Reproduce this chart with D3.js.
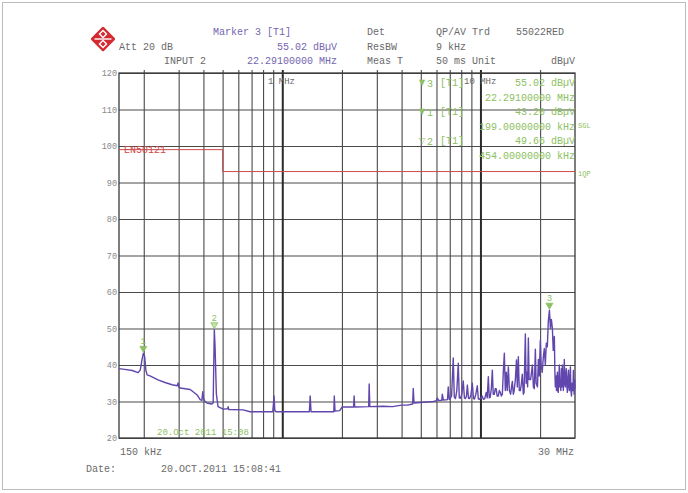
<!DOCTYPE html>
<html><head><meta charset="utf-8">
<script src="https://cdn.jsdelivr.net/npm/d3@7"></script>
<style>
html,body{margin:0;padding:0;background:#fff;}
svg{display:block;}
text{font-family:"Liberation Mono","DejaVu Sans Mono",monospace;}
</style></head>
<body>
<svg id="c" width="688" height="493"></svg>
<script>
// ---------- data ----------
const yTicks = [20,30,40,50,60,70,80,90,100,110,120];
const gridFreqs = [0.2,0.3,0.4,0.5,0.6,0.7,0.8,0.9,1,2,3,4,5,6,7,8,9,10,20];
const majorFreqs = [1,10];
const limitName = "EN50121";
const limitLine = [[0.15,99],[0.5,99],[0.5,93],[30,93]];
// trace: [frequency MHz, level dBuV]
const trace = [
 [0.150,39.0],[0.160,38.8],[0.175,38.5],[0.187,37.9],[0.192,38.6],[0.196,41.5],[0.199,43.2],[0.202,42.4],
 [0.205,38.5],[0.208,37.3],[0.215,37.0],[0.236,35.9],[0.256,35.2],[0.278,34.6],[0.295,34.3],[0.298,35.1],
 [0.301,33.9],[0.305,33.7],[0.343,33.3],[0.372,31.8],[0.385,30.5],[0.393,30.3],[0.397,32.7],[0.400,31.0],
 [0.405,30.2],[0.417,29.6],[0.440,29.3],[0.448,29.6],[0.451,40.0],[0.454,49.7],[0.458,45.0],[0.465,32.0],
 [0.474,28.6],[0.503,27.9],[0.530,28.0],[0.533,28.6],[0.537,27.8],[0.634,27.7],[0.688,27.2],[0.895,27.2],
 [0.903,29.5],[0.909,31.5],[0.917,27.5],[0.930,27.2],[1.370,27.2],[1.383,31.5],[1.397,27.2],[1.820,27.2],
 [1.830,31.5],[1.845,27.4],[1.950,27.5],[2.006,28.5],[2.290,28.5],[2.305,31.5],[2.320,28.5],[2.730,28.6],
 [2.745,34.8],[2.765,28.6],[3.230,28.7],[3.600,28.6],[4.000,29.0],[4.270,29.0],[4.550,29.3],[4.580,33.6],
 [4.620,29.6],[5.140,29.8],[5.800,30.0],[6.000,30.2],[6.050,31.0],[6.150,30.3],[6.380,30.3],[6.420,32.0],
 [6.500,30.4],[6.820,30.5],[6.880,34.0],[6.960,30.6],
 [7.00,30.6],[7.15,31.5],[7.29,41.9],[7.38,31.2],[7.48,30.8],[7.60,33.0],[7.73,40.5],[7.82,31.0],
 [7.92,30.9],[8.05,32.0],[8.19,35.6],[8.30,31.0],[8.40,30.8],[8.50,31.5],[8.59,34.5],[8.70,30.9],
 [8.81,30.8],[8.95,31.8],[9.10,35.0],[9.22,30.8],[9.33,30.7],[9.48,32.0],[9.64,34.3],[9.76,30.7],
 [9.88,30.6],[10.05,31.0],[10.20,31.5],[10.35,30.6],[10.50,30.7],[10.60,31.6],[10.70,32.5],[10.82,31.0],
 [10.96,36.8],[11.08,31.0],[11.20,31.2],[11.35,33.5],[11.48,38.6],[11.60,32.0],[11.75,32.0],[11.88,33.5],
 [12.00,33.5],[12.15,31.5],[12.30,31.5],[12.45,33.0],[12.60,32.5],[12.75,31.5],[12.90,32.0],[13.04,38.0],
 [13.20,43.2],[13.35,33.0],[13.50,38.0],[13.65,33.0],[13.83,39.5],[14.00,33.0],[14.20,32.0],[14.35,34.0],
 [14.49,35.5],[14.65,32.0],[14.80,33.0],[15.00,36.0],[15.20,41.4],[15.35,34.0],[15.53,42.3],[15.70,33.0],
 [15.90,33.0],[16.10,35.0],[16.26,37.5],[16.45,32.0],[16.60,32.5],[16.85,48.5],[17.00,35.0],[17.15,38.0],
 [17.30,34.0],[17.45,47.4],[17.60,36.0],[17.90,36.0],[18.10,38.0],[18.28,40.0],[18.50,34.0],[18.70,33.5],
 [18.93,44.3],[19.10,35.0],[19.40,34.0],[19.60,41.5],[19.80,37.0],[20.05,46.8],[20.25,40.0],[20.50,38.0],
 [20.75,42.0],[21.00,44.5],[21.25,40.0],[21.50,46.0],[21.75,45.0],[22.00,52.0],[22.29,55.0],[22.55,50.0],
 [22.80,52.5],[23.07,50.0],[23.30,44.0],[23.60,47.8],[23.75,38.0],[23.88,34.0],[24.05,37.0],[24.20,33.0],
 [24.45,38.0],[24.55,33.0],[24.70,32.5],[24.85,36.0],[25.00,40.0],[25.15,34.0],[25.30,35.0],[25.45,33.0],
 [25.60,39.0],[25.75,34.0],[25.90,40.0],[26.05,36.0],[26.20,33.0],[26.35,37.0],[26.50,41.5],[26.65,35.0],
 [26.80,34.0],[26.95,37.0],[27.10,39.0],[27.30,34.0],[27.46,32.5],[27.60,36.0],[27.80,38.6],[27.95,34.0],
 [28.10,33.0],[28.25,36.0],[28.44,39.5],[28.60,33.0],[28.80,31.5],[28.95,35.0],[29.10,34.0],[29.30,33.0],
 [29.45,38.5],[29.60,34.0],[29.70,32.0],[29.85,36.0],[30.00,33.5]
];
const markers = [
 {n:"1", f:0.199, v:43.20, filled:true},
 {n:"2", f:0.454, v:49.66, filled:false},
 {n:"3", f:22.291, v:55.02, filled:true}
];
const markerTexts = [
 {sym:"\u25BC", n:"3", lvl:"55.02 dB\u00B5V", fr:"22.29100000 MHz"},
 {sym:"\u25BC", n:"1", lvl:"43.20 dB\u00B5V", fr:"199.00000000 kHz"},
 {sym:"\u25BD", n:"2", lvl:"49.66 dB\u00B5V", fr:"454.00000000 kHz"}
];

// ---------- layout ----------
const svg = d3.select("#c");
const L=119, R=575, T=73, B=438;
const x = d3.scaleLog().domain([0.15,30]).range([L,R]);
const y = d3.scaleLinear().domain([20,120]).range([B,T]);
const purple="#7566b0", grey="#6a6a6a", green="#8cc062", red="#cf4a4a";

// outer frame
svg.append("rect").attr("x",2.5).attr("y",2.5).attr("width",683).attr("height",487)
  .attr("fill","none").attr("stroke","#bbb");

// horizontal grid via axis
const yg = svg.append("g").attr("transform",`translate(${L},0)`)
  .call(d3.axisLeft(y).tickValues(yTicks).tickSize(-(R-L)).tickFormat(d3.format("d")));
yg.select(".domain").remove();
yg.selectAll(".tick line").attr("stroke","#4a4a4a").attr("stroke-width",1.1);
yg.selectAll(".tick text").attr("x",-2).attr("fill","#8a8a8a").style("font-size","8.5px")
  .style("font-family","Liberation Mono, monospace");

// vertical grid via axis
const xg = svg.append("g").attr("transform",`translate(0,${B})`)
  .call(d3.axisBottom(x).tickValues(gridFreqs).tickSize(-(B-T)-3).tickFormat(""));
xg.select(".domain").remove();
xg.selectAll(".tick line")
  .attr("stroke",d=>majorFreqs.includes(d)?"#2a2a2a":"#4a4a4a")
  .attr("stroke-width",d=>majorFreqs.includes(d)?2:1.1);

// plot frame
svg.append("rect").attr("x",L).attr("y",T).attr("width",R-L).attr("height",B-T)
  .attr("fill","none").attr("stroke","#3a3a3a").attr("stroke-width",1.3);

// limit line
svg.append("path").datum(limitLine)
  .attr("d",d3.line().x(d=>x(d[0])).y(d=>y(d[1])))
  .attr("fill","none").attr("stroke",red).attr("stroke-width",1);
svg.append("text").attr("x",124).attr("y",y(99)+3.5).attr("fill",red)
  .style("font-size","10px").text(limitName);

// trace
svg.append("path").datum(trace)
  .attr("d",d3.line().x(d=>x(d[0])).y(d=>y(d[1])))
  .attr("fill","none").attr("stroke","#6046ad").attr("stroke-width",1.4)
  .attr("stroke-linejoin","round");

// markers on trace
markers.forEach(m=>{
  const mx=x(m.f), my=y(m.v);
  svg.append("path").attr("d",`M${mx-3.5},${my-7}L${mx+3.5},${my-7}L${mx},${my-1}Z`)
    .attr("fill",m.filled?green:"#c6e3a8").attr("stroke",green).attr("stroke-width",0.8);
  svg.append("text").attr("x",mx).attr("y",my-9).attr("text-anchor","middle")
    .attr("fill",green).style("font-size","9px").text(m.n);
});

// decade labels
svg.append("text").attr("x",268).attr("y",84).attr("fill",grey).style("font-size","9px").text("1 MHz");
svg.append("text").attr("x",464).attr("y",84).attr("fill",grey).style("font-size","9px").text("10 MHz");

// marker info texts
markerTexts.forEach((m,i)=>{
  const yy = 86 + i*29;
  svg.append("text").attr("x",419).attr("y",yy-1).attr("fill",green)
    .style("font-family","DejaVu Sans, sans-serif").style("font-size","8px").text(m.sym);
  svg.append("text").attr("x",427).attr("y",yy+1).attr("fill",green).style("font-size","10px").text(m.n);
  svg.append("text").attr("x",440).attr("y",yy).attr("fill",green).style("font-size","10px").text("[T1]");
  svg.append("text").attr("x",575).attr("y",yy).attr("text-anchor","end").attr("fill",green)
    .style("font-size","10px").text(m.lvl);
  svg.append("text").attr("x",575).attr("y",yy+15).attr("text-anchor","end").attr("fill",green)
    .style("font-size","10px").text(m.fr);
});
svg.append("text").attr("x",578).attr("y",128).attr("fill",green).style("font-size","7px").text("SGL");
svg.append("text").attr("x",578).attr("y",176).attr("fill",green).style("font-size","7px").text("1QP");

// in-plot date
svg.append("text").attr("x",157).attr("y",435).attr("fill",green).style("font-size","9px").text("20.Oct 2011 15:08");

// header
const hdr = [
 {t:"Marker 3 [T1]", x:213, y:35, c:purple},
 {t:"Det", x:367, y:35, c:grey},
 {t:"QP/AV Trd", x:436, y:35, c:grey},
 {t:"55022RED", x:516, y:35, c:grey},
 {t:"Att 20 dB", x:119, y:50, c:grey},
 {t:"55.02 dB\u00B5V", x:277, y:50, c:purple},
 {t:"ResBW", x:367, y:50, c:grey},
 {t:"9 kHz", x:436, y:50, c:grey},
 {t:"INPUT 2", x:164, y:64, c:grey},
 {t:"22.29100000 MHz", x:247, y:64, c:purple},
 {t:"Meas T", x:367, y:64, c:grey},
 {t:"50 ms Unit", x:436, y:64, c:grey}
];
hdr.forEach(h=>svg.append("text").attr("x",h.x).attr("y",h.y).attr("fill",h.c).style("font-size","10px").text(h.t));
svg.append("text").attr("x",575).attr("y",64).attr("text-anchor","end").attr("fill",grey).style("font-size","10px").text("dB\u00B5V");

// bottom
svg.append("text").attr("x",120).attr("y",455).attr("fill",grey).style("font-size","10px").text("150 kHz");
svg.append("text").attr("x",574).attr("y",455).attr("text-anchor","end").attr("fill",grey).style("font-size","10px").text("30 MHz");
svg.append("text").attr("x",86).attr("y",472).attr("fill",grey).style("font-size","10px").text("Date:");
svg.append("text").attr("x",161).attr("y",472).attr("fill",grey).style("font-size","10px").text("20.OCT.2011  15:08:41");

// logo (R&S style diamond)
const lg = svg.append("g").attr("transform","translate(103,39) rotate(45)");
lg.append("rect").attr("x",-9).attr("y",-9).attr("width",18).attr("height",18).attr("fill","#d42a32").attr("rx",1.5);
lg.append("rect").attr("x",-6).attr("y",-6).attr("width",5).attr("height",5).attr("fill","none").attr("stroke","#fff").attr("stroke-width",1.4);
lg.append("rect").attr("x",1).attr("y",1).attr("width",5).attr("height",5).attr("fill","none").attr("stroke","#fff").attr("stroke-width",1.4);
lg.append("line").attr("x1",-6).attr("y1",6).attr("x2",6).attr("y2",-6).attr("stroke","#fff").attr("stroke-width",1.4);
</script>
</body></html>
